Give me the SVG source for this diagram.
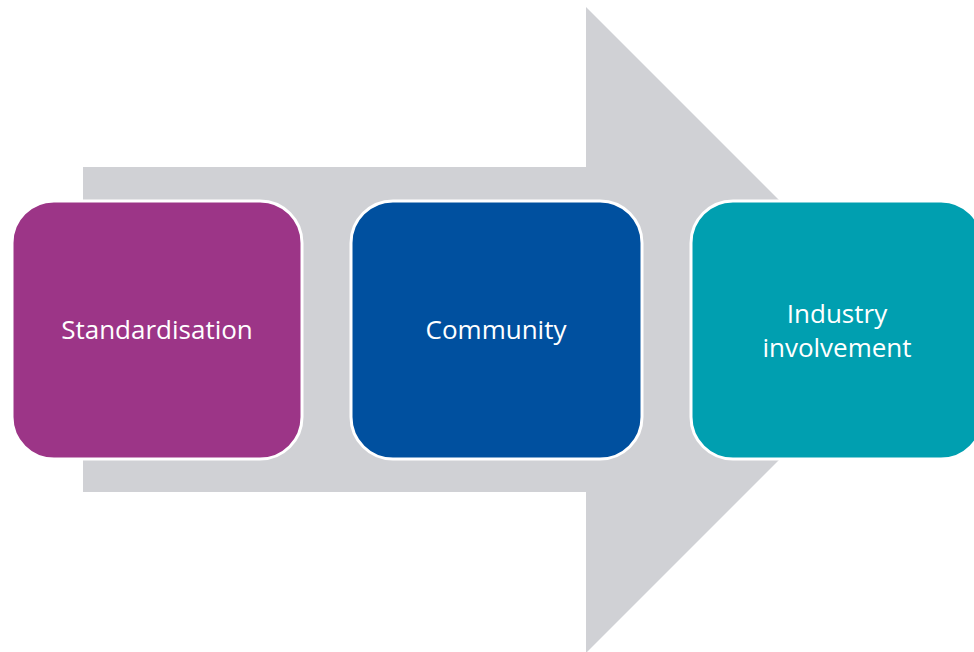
<svg xmlns="http://www.w3.org/2000/svg" width="974" height="652" viewBox="0 0 974 652">
<style>
.box{stroke:#ffffff;stroke-width:3}
.lbl{font-family:"Open Sans","Noto Sans","Liberation Sans",sans-serif;font-size:26px;fill:#ffffff;text-anchor:middle}
</style>
<rect x="0" y="0" width="974" height="652" fill="#ffffff"/>
<g id="arrow">
<polygon points="83,167 586,167 586,7 909,330 586,653 586,492 83,492" fill="#d0d1d5"/>
</g>
<g id="node-standardisation">
<rect class="box" x="12" y="201" width="290" height="258" rx="42" ry="42" fill="#9c3587"/>
<text class="lbl" x="157" y="339">Standardisation</text>
</g>
<g id="node-community">
<rect class="box" x="351" y="201" width="291" height="258" rx="42" ry="42" fill="#00509f"/>
<text class="lbl" x="496" y="339">Community</text>
</g>
<g id="node-industry">
<rect class="box" x="691" y="201" width="292" height="258" rx="42" ry="42" fill="#009fb0"/>
<text class="lbl" x="837" y="323">Industry</text>
<text class="lbl" x="837" y="357">involvement</text>
</g>
</svg>
